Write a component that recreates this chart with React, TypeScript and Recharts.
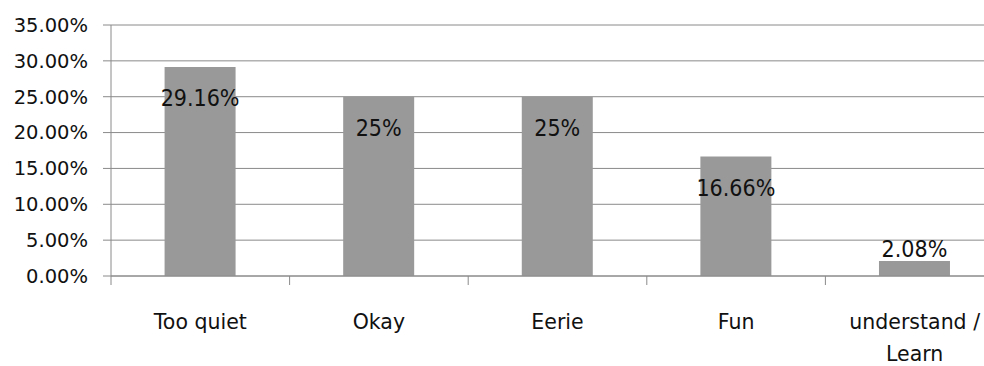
import React from 'react';
import { BarChart, Bar, XAxis, YAxis, CartesianGrid, LabelList } from 'recharts';

const categories = ['Too quiet', 'Okay', 'Eerie', 'Fun', 'understand / Learn'];
const values = [29.16, 25, 25, 16.66, 2.08];
const valueLabels = ['29.16%', '25%', '25%', '16.66%', '2.08%'];
const yTicks = [0, 5, 10, 15, 20, 25, 30, 35];

const data = categories.map((c, i) => ({ name: c, value: values[i], label: valueLabels[i] }));

const GRID = '#8a8a8a';
const AXIS_FONT = "'DejaVu Sans', sans-serif";
const LABEL_FONT = "'DejaVu Sans Condensed', sans-serif";

const XTick = (props: any) => {
  const { x, y, payload, width, visibleTicksCount, index } = props;
  const half = width / visibleTicksCount / 2;
  const name: string = payload.value;
  const lines = name === 'understand / Learn' ? ['understand /', 'Learn'] : [name];
  return (
    <g>
      <line x1={x - half} y1={y} x2={x - half} y2={y + 9} stroke={GRID} strokeWidth={1} />
      {index === visibleTicksCount - 1 && (
        <line x1={x + half} y1={y} x2={x + half} y2={y + 9} stroke={GRID} strokeWidth={1} />
      )}
      {lines.map((l, i) => (
        <text
          key={i}
          x={x}
          y={y + 46 + i * 32}
          textAnchor="middle"
          dominantBaseline="central"
          fontFamily={AXIS_FONT}
          fontSize={20.5}
          fill="#111"
        >
          {l}
        </text>
      ))}
    </g>
  );
};

const BarLabel = (props: any) => {
  const { x, y, width, height, index } = props;
  const cx = x + width / 2;
  const cy = height > 40 ? y + 31 : y - 12;
  return (
    <text
      x={cx}
      y={cy}
      textAnchor="middle"
      dominantBaseline="central"
      fontFamily={LABEL_FONT}
      fontSize={23}
      fill="#111"
    >
      {valueLabels[index]}
    </text>
  );
};

export default function App() {
  return (
    <div
      style={{
        position: 'absolute',
        left: 0,
        top: 0,
        width: 984,
        height: 366,
        overflow: 'hidden',
        background: '#fff',
      }}
    >
      <BarChart
        width={1004}
        height={366}
        data={data}
        margin={{ top: 25, right: 0, bottom: 0, left: 0 }}
        barCategoryGap="30%"
      >
        <CartesianGrid vertical={false} stroke={GRID} strokeWidth={1} />
        <XAxis
          dataKey="name"
          height={90}
          interval={0}
          tickLine={false}
          tickSize={0}
          tickMargin={0}
          axisLine={{ stroke: GRID }}
          tick={<XTick />}
        />
        <YAxis
          width={111}
          domain={[0, 35]}
          ticks={yTicks}
          interval={0}
          tickFormatter={(v: number) => v.toFixed(2) + '%'}
          tickSize={8}
          tickMargin={15}
          axisLine={{ stroke: GRID }}
          tickLine={{ stroke: GRID }}
          tick={{ fill: '#111', fontSize: 19.5, fontFamily: AXIS_FONT }}
        />
        <Bar dataKey="value" fill="#999999" isAnimationActive={false}>
          <LabelList dataKey="label" content={<BarLabel />} />
        </Bar>
      </BarChart>
    </div>
  );
}
